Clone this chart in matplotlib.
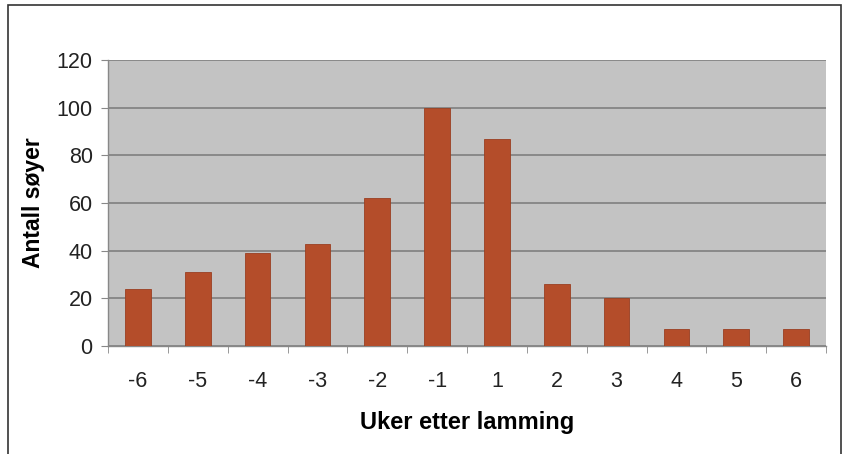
import matplotlib
matplotlib.use("Agg")
import matplotlib.pyplot as plt
from matplotlib.patches import Rectangle
import numpy as np

categories = ["-6", "-5", "-4", "-3", "-2", "-1", "1", "2", "3", "4", "5", "6"]
values = [24, 31, 39, 43, 62, 100, 87, 26, 20, 7, 7, 7]
yticks = [0, 20, 40, 60, 80, 100, 120]

plt.rcParams['font.family'] = ['Liberation Sans', 'DejaVu Sans']

fig = plt.figure(figsize=(8.5, 4.54), dpi=100)
fig.patch.set_facecolor('white')
ax = fig.add_axes([108/850, 1-346/454, (826-108)/850, (346-60)/454])
ax.set_facecolor('#c3c3c3')

x = np.arange(len(categories))
ax.bar(x, values, width=0.43, color='#b44d2a', edgecolor='#9a3f22', linewidth=0.6, zorder=3)

ax.set_xlim(-0.5, len(categories) - 0.5)
ax.set_ylim(0, 120)
ax.set_yticks(yticks)
ax.set_yticklabels([str(v) for v in yticks], fontsize=15.5, color='#222222')
ax.yaxis.grid(True, color='#7f7f7f', linewidth=1.2, zorder=1)
ax.set_axisbelow(True)

ax.set_xticks(x)
ax.set_xticklabels(categories, fontsize=15.5, color='#222222')
ax.set_xticks(np.arange(-0.5, len(categories)), minor=True)
ax.tick_params(axis='x', which='major', length=0, pad=18)
ax.tick_params(axis='x', which='minor', length=5, color='#888888', direction='out')
ax.tick_params(axis='y', length=5, color='#888888', direction='out', pad=6)

for s in ['top', 'right']:
    ax.spines[s].set_visible(False)
for s in ['left', 'bottom']:
    ax.spines[s].set_color('#888888')
    ax.spines[s].set_linewidth(1.0)

ax.set_ylabel('Antall søyer', fontsize=16.5, fontweight='bold', labelpad=8)
ax.set_xlabel('Uker etter lamming', fontsize=17, fontweight='bold', labelpad=14)

fig.patches.append(Rectangle((8/850, -0.02), (841-8)/850, 1.02 - 5/454,
                             transform=fig.transFigure, fill=False,
                             edgecolor='#333333', linewidth=1.2))

fig.savefig('out.png', dpi=100)
